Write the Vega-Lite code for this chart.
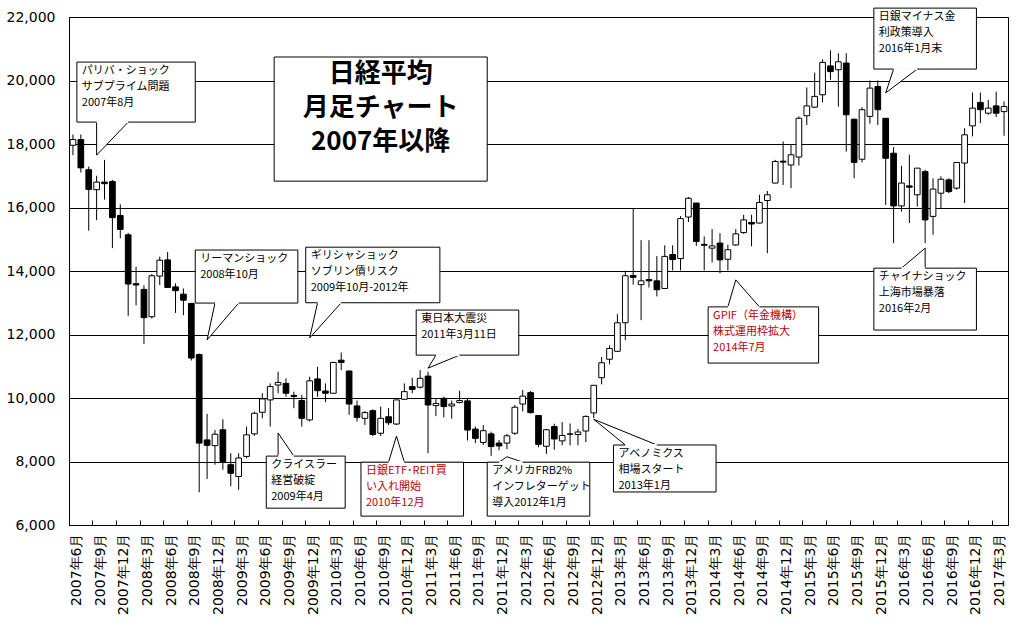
{
  "$schema": "https://vega.github.io/schema/vega-lite/v6.json",
  "width": 939,
  "height": 508,
  "autosize": "none",
  "padding": {"left": 69, "top": 17, "right": 16, "bottom": 103},
  "background": "white",
  "config": {"view": {"stroke": "black", "strokeWidth": 1}, "font": "Noto Sans CJK JP"},
  "datasets": {
    "candles": [
      {"m":"2007-06","o":17960,"h":18300,"l":17650,"c":18140},
      {"m":"2007-07","o":18140,"h":18300,"l":17100,"c":17250},
      {"m":"2007-08","o":17190,"h":17290,"l":15270,"c":16570},
      {"m":"2007-09","o":16560,"h":17000,"l":15600,"c":16800},
      {"m":"2007-10","o":16800,"h":17500,"l":16250,"c":16750},
      {"m":"2007-11","o":16820,"h":16870,"l":14720,"c":15680},
      {"m":"2007-12","o":15750,"h":16100,"l":15030,"c":15310},
      {"m":"2008-01","o":15140,"h":15200,"l":12590,"c":13590},
      {"m":"2008-02","o":13600,"h":14130,"l":12920,"c":13560},
      {"m":"2008-03","o":13420,"h":13550,"l":11700,"c":12530},
      {"m":"2008-04","o":12560,"h":13900,"l":12500,"c":13850},
      {"m":"2008-05","o":13840,"h":14450,"l":13560,"c":14340},
      {"m":"2008-06","o":14350,"h":14600,"l":13500,"c":13480},
      {"m":"2008-07","o":13500,"h":13610,"l":12680,"c":13380},
      {"m":"2008-08","o":13270,"h":13450,"l":12610,"c":13080},
      {"m":"2008-09","o":12980,"h":12990,"l":11180,"c":11260},
      {"m":"2008-10","o":11370,"h":11400,"l":7030,"c":8580},
      {"m":"2008-11","o":8680,"h":9500,"l":7450,"c":8510},
      {"m":"2008-12","o":8500,"h":8990,"l":7900,"c":8860},
      {"m":"2009-01","o":9000,"h":9330,"l":7740,"c":8000},
      {"m":"2009-02","o":7900,"h":8260,"l":7220,"c":7630},
      {"m":"2009-03","o":7530,"h":8260,"l":7110,"c":8110},
      {"m":"2009-04","o":8160,"h":9100,"l":8100,"c":8840},
      {"m":"2009-05","o":8870,"h":9570,"l":8810,"c":9520},
      {"m":"2009-06","o":9550,"h":10150,"l":9360,"c":9970},
      {"m":"2009-07","o":9940,"h":10460,"l":9100,"c":10360},
      {"m":"2009-08","o":10410,"h":10830,"l":10150,"c":10490},
      {"m":"2009-09","o":10460,"h":10620,"l":10040,"c":10150},
      {"m":"2009-10","o":10080,"h":10200,"l":9680,"c":10050},
      {"m":"2009-11","o":9920,"h":10090,"l":9100,"c":9360},
      {"m":"2009-12","o":9310,"h":10670,"l":9260,"c":10540},
      {"m":"2010-01","o":10600,"h":10980,"l":10040,"c":10230},
      {"m":"2010-02","o":10220,"h":10460,"l":9870,"c":10150},
      {"m":"2010-03","o":10150,"h":11140,"l":10140,"c":11120},
      {"m":"2010-04","o":11190,"h":11430,"l":10880,"c":11120},
      {"m":"2010-05","o":10850,"h":10860,"l":9470,"c":9810},
      {"m":"2010-06","o":9750,"h":9920,"l":9260,"c":9390},
      {"m":"2010-07","o":9360,"h":9590,"l":9150,"c":9540},
      {"m":"2010-08","o":9600,"h":9640,"l":8800,"c":8850},
      {"m":"2010-09","o":8890,"h":9730,"l":8800,"c":9360},
      {"m":"2010-10","o":9410,"h":9680,"l":9150,"c":9220},
      {"m":"2010-11","o":9180,"h":9940,"l":9150,"c":9940},
      {"m":"2010-12","o":9960,"h":10460,"l":9940,"c":10200},
      {"m":"2011-01","o":10360,"h":10640,"l":10150,"c":10270},
      {"m":"2011-02","o":10340,"h":10880,"l":10300,"c":10620},
      {"m":"2011-03","o":10690,"h":10830,"l":8260,"c":9780},
      {"m":"2011-04","o":9760,"h":9990,"l":9430,"c":9830},
      {"m":"2011-05","o":9990,"h":10040,"l":9390,"c":9730},
      {"m":"2011-06","o":9750,"h":9920,"l":9350,"c":9810},
      {"m":"2011-07","o":9860,"h":10230,"l":9830,"c":9920},
      {"m":"2011-08","o":9910,"h":9990,"l":8660,"c":8990},
      {"m":"2011-09","o":9020,"h":9100,"l":8580,"c":8730},
      {"m":"2011-10","o":8600,"h":9150,"l":8520,"c":8970},
      {"m":"2011-11","o":8870,"h":8940,"l":8180,"c":8470},
      {"m":"2011-12","o":8580,"h":8680,"l":8350,"c":8490},
      {"m":"2012-01","o":8580,"h":8870,"l":8390,"c":8810},
      {"m":"2012-02","o":8890,"h":9780,"l":8840,"c":9710},
      {"m":"2012-03","o":9810,"h":10250,"l":9580,"c":10060},
      {"m":"2012-04","o":10170,"h":10220,"l":9510,"c":9540},
      {"m":"2012-05","o":9450,"h":9460,"l":8450,"c":8540},
      {"m":"2012-06","o":8480,"h":9030,"l":8240,"c":9000},
      {"m":"2012-07","o":9100,"h":9190,"l":8370,"c":8710},
      {"m":"2012-08","o":8650,"h":9240,"l":8510,"c":8820},
      {"m":"2012-09","o":8860,"h":9200,"l":8510,"c":8870},
      {"m":"2012-10","o":8850,"h":9030,"l":8510,"c":8930},
      {"m":"2012-11","o":8960,"h":9450,"l":8610,"c":9420},
      {"m":"2012-12","o":9530,"h":10400,"l":9370,"c":10400},
      {"m":"2013-01","o":10640,"h":11290,"l":10430,"c":11110},
      {"m":"2013-02","o":11220,"h":11660,"l":11060,"c":11560},
      {"m":"2013-03","o":11470,"h":12640,"l":11450,"c":12370},
      {"m":"2013-04","o":12370,"h":14010,"l":11820,"c":13850},
      {"m":"2013-05","o":13860,"h":15960,"l":13570,"c":13800},
      {"m":"2013-06","o":13570,"h":14970,"l":12450,"c":13690},
      {"m":"2013-07","o":13730,"h":14970,"l":13480,"c":13690},
      {"m":"2013-08","o":13690,"h":14470,"l":13200,"c":13410},
      {"m":"2013-09","o":13450,"h":14810,"l":13440,"c":14460},
      {"m":"2013-10","o":14520,"h":14810,"l":14020,"c":14360},
      {"m":"2013-11","o":14390,"h":15730,"l":14020,"c":15650},
      {"m":"2013-12","o":15700,"h":16330,"l":15540,"c":16290},
      {"m":"2014-01","o":16140,"h":16150,"l":14790,"c":14930},
      {"m":"2014-02","o":14840,"h":15090,"l":14020,"c":14810},
      {"m":"2014-03","o":14720,"h":15320,"l":14270,"c":14790},
      {"m":"2014-04","o":14880,"h":15190,"l":13930,"c":14350},
      {"m":"2014-05","o":14370,"h":14830,"l":14020,"c":14670},
      {"m":"2014-06","o":14820,"h":15320,"l":14790,"c":15170},
      {"m":"2014-07","o":15210,"h":15770,"l":15170,"c":15610},
      {"m":"2014-08","o":15530,"h":15770,"l":14780,"c":15480},
      {"m":"2014-09","o":15510,"h":16400,"l":15500,"c":16160},
      {"m":"2014-10","o":16220,"h":16520,"l":14560,"c":16400},
      {"m":"2014-11","o":16770,"h":17500,"l":16760,"c":17450},
      {"m":"2014-12","o":17460,"h":18080,"l":16710,"c":17430},
      {"m":"2015-01","o":17340,"h":17970,"l":16610,"c":17660},
      {"m":"2015-02","o":17590,"h":18870,"l":17320,"c":18810},
      {"m":"2015-03","o":18890,"h":19780,"l":18600,"c":19200},
      {"m":"2015-04","o":19160,"h":20250,"l":19130,"c":19500},
      {"m":"2015-05","o":19550,"h":20670,"l":19310,"c":20570},
      {"m":"2015-06","o":20460,"h":20950,"l":20020,"c":20280},
      {"m":"2015-07","o":20340,"h":20860,"l":19180,"c":20590},
      {"m":"2015-08","o":20550,"h":20860,"l":17760,"c":18920},
      {"m":"2015-09","o":18780,"h":18800,"l":16920,"c":17420},
      {"m":"2015-10","o":17520,"h":19160,"l":17420,"c":19080},
      {"m":"2015-11","o":18870,"h":20000,"l":18640,"c":19760},
      {"m":"2015-12","o":19810,"h":20000,"l":18600,"c":19080},
      {"m":"2016-01","o":18810,"h":18820,"l":16080,"c":17550},
      {"m":"2016-02","o":17710,"h":17900,"l":14880,"c":16050},
      {"m":"2016-03","o":16050,"h":17310,"l":15870,"c":16770},
      {"m":"2016-04","o":16680,"h":17660,"l":15510,"c":16640},
      {"m":"2016-05","o":16400,"h":17240,"l":16030,"c":17240},
      {"m":"2016-06","o":17130,"h":17190,"l":14880,"c":15610},
      {"m":"2016-07","o":15720,"h":16920,"l":15140,"c":16580},
      {"m":"2016-08","o":16450,"h":16980,"l":15950,"c":16890},
      {"m":"2016-09","o":16870,"h":16920,"l":16450,"c":16500},
      {"m":"2016-10","o":16610,"h":17420,"l":16560,"c":17420},
      {"m":"2016-11","o":17400,"h":18500,"l":16140,"c":18290},
      {"m":"2016-12","o":18570,"h":19620,"l":18240,"c":19130},
      {"m":"2017-01","o":19310,"h":19620,"l":18660,"c":19080},
      {"m":"2017-02","o":18970,"h":19390,"l":18920,"c":19130},
      {"m":"2017-03","o":19200,"h":19650,"l":18850,"c":18970},
      {"m":"2017-04","o":19020,"h":19340,"l":18260,"c":19180}
    ],
    "boxes": [
      {"m1":"2007-07","m2":"2008-10","top":20580,"bot":18690,"g":"event","t":"パリバ・ショック\nサブプライム問題\n2007年8月"},
      {"m1":"2008-10","m2":"2009-11","top":14660,"bot":12990,"g":"event","t":"リーマンショック\n2008年10月"},
      {"m1":"2009-12","m2":"2011-05","top":14750,"bot":13000,"g":"event","t":"ギリシャショック\nソブリン債リスク\n2009年10月-2012年"},
      {"m1":"2011-02","m2":"2012-03","top":12770,"bot":11350,"g":"event","t":"東日本大震災\n2011年3月11日"},
      {"m1":"2009-07","m2":"2010-05","top":8170,"bot":6530,"g":"event","t":"クライスラー\n経営破綻\n2009年4月"},
      {"m1":"2010-07","m2":"2011-08","top":7980,"bot":6280,"g":"policy","t":"日銀ETF･REIT買\nい入れ開始\n2010年12月"},
      {"m1":"2011-11","m2":"2012-12","top":7980,"bot":6280,"g":"event","t":"アメリカFRB2%\nインフレターゲット\n導入2012年1月"},
      {"m1":"2013-03","m2":"2014-04","top":8520,"bot":7040,"g":"event","t":"アベノミクス\n相場スタート\n2013年1月"},
      {"m1":"2014-03","m2":"2015-05","top":12870,"bot":11100,"g":"policy","t":"GPIF（年金機構）\n株式運用枠拡大\n2014年7月"},
      {"m1":"2015-12","m2":"2017-01","top":22280,"bot":20360,"g":"event","t":"日銀マイナス金\n利政策導入\n2016年1月末"},
      {"m1":"2015-12","m2":"2017-01","top":14090,"bot":12140,"g":"event","t":"チャイナショック\n上海市場暴落\n2016年2月"}
    ],
    "ptr": [
      {"id":"a","k":1,"m":"2007-09","v":18690},{"id":"a","k":2,"m":"2007-09","v":17650},{"id":"a","k":3,"m":"2008-01","v":18690},
      {"id":"b","k":1,"m":"2008-12","v":12990},{"id":"b","k":2,"m":"2008-11","v":11830},{"id":"b","k":3,"m":"2009-03","v":12990},
      {"id":"c","k":1,"m":"2010-01","v":13000},{"id":"c","k":2,"m":"2009-12","v":11890},{"id":"c","k":3,"m":"2010-04","v":13000},
      {"id":"d","k":1,"m":"2011-04","v":11350},{"id":"d","k":2,"m":"2011-03","v":10940},{"id":"d","k":3,"m":"2011-07","v":11350},
      {"id":"e","k":1,"m":"2009-08","v":8170},{"id":"e","k":2,"m":"2009-08","v":8900},{"id":"e","k":3,"m":"2009-10","v":8170},
      {"id":"f","k":1,"m":"2010-10","v":7980},{"id":"f","k":2,"m":"2010-11","v":8800},{"id":"f","k":3,"m":"2010-12","v":7980},
      {"id":"g","k":1,"m":"2011-12","v":7980},{"id":"g","k":2,"m":"2012-01","v":8150},{"id":"g","k":3,"m":"2012-03","v":7980},
      {"id":"h","k":1,"m":"2013-04","v":8520},{"id":"h","k":2,"m":"2012-12","v":9330},{"id":"h","k":3,"m":"2013-08","v":8520},
      {"id":"i","k":1,"m":"2014-05","v":12870},{"id":"i","k":2,"m":"2014-06","v":13720},{"id":"i","k":3,"m":"2014-09","v":12870},
      {"id":"j","k":1,"m":"2016-02","v":20360},{"id":"j","k":2,"m":"2016-01","v":19610},{"id":"j","k":3,"m":"2016-05","v":20360},
      {"id":"k","k":1,"m":"2016-03","v":14090},{"id":"k","k":2,"m":"2016-06","v":14720},{"id":"k","k":3,"m":"2016-06","v":14090}
    ],
    "gap": [
      {"b1":"2007-09","b2":"2008-01","e":18690},
      {"b1":"2008-12","b2":"2009-03","e":12990},
      {"b1":"2010-01","b2":"2010-04","e":13000},
      {"b1":"2011-04","b2":"2011-07","e":11350},
      {"b1":"2009-08","b2":"2009-10","e":8170},
      {"b1":"2010-10","b2":"2010-12","e":7980},
      {"b1":"2011-12","b2":"2012-03","e":7980},
      {"b1":"2013-04","b2":"2013-08","e":8520},
      {"b1":"2014-05","b2":"2014-09","e":12870},
      {"b1":"2016-02","b2":"2016-05","e":20360},
      {"b1":"2016-03","b2":"2016-06","e":14090}
    ],
    "title": [
      {"m1":"2009-08","m2":"2011-11","top":20740,"bot":16830,"mc":"2010-09","t":"日経平均\n月足チャート\n2007年以降"}
    ]
  },
  "layer": [
    {
      "data": {"name": "candles"},
      "mark": {"type": "rule", "color": "black", "strokeWidth": 1},
      "encoding": {
        "x": {
          "field": "m", "type": "ordinal",
          "scale": {"type": "band", "paddingInner": 0, "paddingOuter": 0},
          "axis": {
            "title": null,
            "values": ["2007-06","2007-09","2007-12","2008-03","2008-06","2008-09","2008-12","2009-03","2009-06","2009-09","2009-12","2010-03","2010-06","2010-09","2010-12","2011-03","2011-06","2011-09","2011-12","2012-03","2012-06","2012-09","2012-12","2013-03","2013-06","2013-09","2013-12","2014-03","2014-06","2014-09","2014-12","2015-03","2015-06","2015-09","2015-12","2016-03","2016-06","2016-09","2016-12","2017-03"],
            "labelExpr": "slice(datum.value,0,4) + '年' + parseInt(slice(datum.value,5,7)) + '月'",
            "labelAngle": 270,
            "labelAlign": "right",
            "labelBaseline": "middle",
            "labelOverlap": false,
            "labelFlush": false,
            "bandPosition": 0,
            "labelOffset": 3.95,
            "tickSize": -5,
            "tickColor": "black",
            "domainColor": "black",
            "labelFont": "DejaVu Sans",
            "labelFontSize": 14,
            "labelColor": "black",
            "labelPadding": 13,
            "grid": false
          }
        },
        "y": {
          "field": "l", "type": "quantitative",
          "scale": {"domain": [6000, 22000], "nice": false, "zero": false},
          "axis": {
            "title": null,
            "values": [6000,8000,10000,12000,14000,16000,18000,20000,22000],
            "format": ",d",
            "grid": true,
            "gridColor": "black",
            "gridWidth": 1,
            "ticks": false,
            "domainColor": "black",
            "labelFont": "DejaVu Sans",
            "labelFontSize": 14,
            "labelColor": "black",
            "labelPadding": 14
          }
        },
        "y2": {"field": "h"}
      }
    },
    {
      "data": {"name": "candles"},
      "mark": {"type": "bar", "width": {"band": 0.72}, "stroke": "black", "strokeWidth": 1},
      "encoding": {
        "x": {"field": "m", "type": "ordinal"},
        "y": {"field": "o", "type": "quantitative"},
        "y2": {"field": "c"},
        "fill": {"condition": {"test": "datum.c >= datum.o", "value": "white"}, "value": "black"}
      }
    },
    {
      "data": {"name": "boxes"},
      "mark": {"type": "rect", "fill": "white", "stroke": "black", "strokeWidth": 1},
      "encoding": {
        "x": {"field": "m1", "type": "ordinal", "bandPosition": 0},
        "x2": {"field": "m2", "bandPosition": 0},
        "y": {"field": "top", "type": "quantitative"},
        "y2": {"field": "bot"}
      }
    },
    {
      "data": {"name": "title"},
      "mark": {"type": "rect", "fill": "white", "stroke": "black", "strokeWidth": 1},
      "encoding": {
        "x": {"field": "m1", "type": "ordinal", "bandPosition": 0},
        "x2": {"field": "m2", "bandPosition": 0},
        "y": {"field": "top", "type": "quantitative"},
        "y2": {"field": "bot"}
      }
    },
    {
      "data": {"name": "ptr"},
      "mark": {"type": "line", "fill": "white", "stroke": "black", "strokeWidth": 1},
      "encoding": {
        "x": {"field": "m", "type": "ordinal"},
        "y": {"field": "v", "type": "quantitative"},
        "detail": {"field": "id"},
        "order": {"field": "k"}
      }
    },
    {
      "data": {"name": "gap"},
      "mark": {"type": "rule", "stroke": "white", "strokeWidth": 2},
      "encoding": {
        "x": {"field": "b1", "type": "ordinal"},
        "x2": {"field": "b2"},
        "y": {"field": "e", "type": "quantitative"}
      }
    },
    {
      "data": {"name": "boxes"},
      "mark": {"type": "text", "align": "left", "baseline": "top", "lineBreak": "\n", "lineHeight": 16, "fontSize": 11, "font": "Noto Sans CJK JP", "dx": 1, "dy": 3},
      "encoding": {
        "x": {"field": "m1", "type": "ordinal"},
        "y": {"field": "top", "type": "quantitative"},
        "text": {"field": "t"},
        "color": {"field": "g", "type": "nominal", "scale": {"domain": ["event", "policy"], "range": ["black", "#c00000"]}, "legend": null}
      }
    },
    {
      "data": {"name": "title"},
      "mark": {"type": "text", "align": "center", "baseline": "top", "lineBreak": "\n", "lineHeight": 34, "fontSize": 26, "fontWeight": "bold", "font": "Noto Sans CJK JP", "color": "black", "dy": 4},
      "encoding": {
        "x": {"field": "mc", "type": "ordinal"},
        "y": {"field": "top", "type": "quantitative"},
        "text": {"field": "t"}
      }
    }
  ]
}
